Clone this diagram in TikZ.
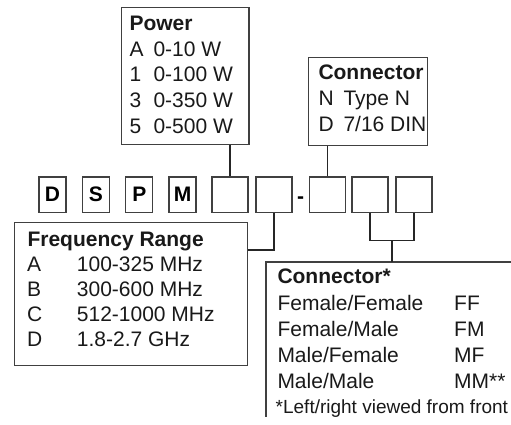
\documentclass[tikz,border=0pt]{standalone}
\usepackage{fontspec}
\setmainfont{Liberation Sans}
\begin{document}
\begin{tikzpicture}[x=1pt,y=-1pt,
  frame/.style={draw=black!75, line width=1.2pt, inner sep=0pt, rectangle},
  conn/.style={draw=black!85, line width=1.2pt},
  txt/.style={anchor=base west, inner sep=0pt, font=\fontsize{21}{25}\selectfont, text=black!90},
  ttl/.style={txt, font=\fontsize{21}{25}\selectfont\bfseries},
  smalltxt/.style={txt, font=\fontsize{19}{23}\selectfont},
  letter/.style={frame, minimum width=27pt, minimum height=35.5pt, font=\fontsize{21}{25}\selectfont\bfseries},
  slot/.style={frame, minimum width=36pt, minimum height=35.5pt}]
\useasboundingbox (0,0) rectangle (511,425);

% code boxes
\node[letter] (bD) at (52.5,194.7) {D};
\node[letter] (bS) at (96,194.7) {S};
\node[letter] (bP) at (139.3,194.7) {P};
\node[letter] (bM) at (182.5,194.7) {M};
\node[slot] (s5) at (230,194.7) {};
\node[slot] (s6) at (274,194.7) {};
\node[anchor=base, inner sep=0pt, font=\fontsize{21}{25}\selectfont\bfseries] (dash) at (300.5,203.7) {-};
\node[slot] (s7) at (327.5,194.7) {};
\node[slot] (s8) at (370,194.7) {};
\node[slot] (s9) at (414,194.7) {};

% Power box
\node[frame, anchor=north west, minimum width=127.6pt, minimum height=136.7pt] (power) at (120.7,7.3) {};
\node[ttl] (pt) at (129.3,30.7) {Power};
\node[txt] (pa) at (129.3,56.7) {A};
\node[txt] (pav) at (153.3,56.7) {0-10 W};
\node[txt] (p1) at (129.3,82) {1};
\node[txt] (p1v) at (153.3,82) {0-100 W};
\node[txt] (p3) at (129.3,107.5) {3};
\node[txt] (p3v) at (153.3,107.5) {0-350 W};
\node[txt] (p5) at (129.3,133) {5};
\node[txt] (p5v) at (153.3,133) {0-500 W};

% Connector box
\node[frame, anchor=north west, minimum width=119pt, minimum height=88pt] (cbox) at (308,57) {};
\node[ttl] (ct) at (318.3,80) {Connector};
\node[txt] (cn) at (318.3,105.5) {N};
\node[txt] (cnv) at (343.3,105.5) {Type N};
\node[txt] (cd) at (318.3,131.5) {D};
\node[txt] (cdv) at (343.3,131.5) {7/16 DIN};

% Frequency box
\node[frame, anchor=north west, minimum width=232.7pt, minimum height=143.3pt] (freq) at (14,221.7) {};
\node[ttl] (ft) at (27.3,246) {Frequency Range};
\node[txt] (fa) at (27,271) {A};
\node[txt] (fav) at (76.7,271) {100-325 MHz};
\node[txt] (fb) at (27,296.5) {B};
\node[txt] (fbv) at (76.7,296.5) {300-600 MHz};
\node[txt] (fc) at (27,321.5) {C};
\node[txt] (fcv) at (76.7,321.5) {512-1000 MHz};
\node[txt] (fd) at (27,346.5) {D};
\node[txt] (fdv) at (76.7,346.5) {1.8-2.7 GHz};

% Connector* box (clipped by picture edge)
\coordinate (ctl) at (266,262);
\draw[draw=black!75, line width=1.2pt] (511,262) -- (ctl) -- (266,417);
\node[ttl] (kt) at (277.3,283.3) {Connector*};
\node[txt] (k1) at (277.3,310.5) {Female/Female};
\node[txt] (k1v) at (454,310.5) {FF};
\node[txt] (k2) at (277.3,336) {Female/Male};
\node[txt] (k2v) at (454,336) {FM};
\node[txt] (k3) at (277.3,362) {Male/Female};
\node[txt] (k3v) at (454,362) {MF};
\node[txt] (k4) at (277.3,388) {Male/Male};
\node[txt] (k4v) at (454,388) {MM**};
\node[smalltxt] (kf) at (275.5,413.3) {*Left/right viewed from front};

% connectors
\draw[conn] (s5.north) -- (s5.north |- power.south);
\draw[conn] (s7.north) -- (s7.north |- cbox.south);
\coordinate (fj) at (274,250);
\draw[conn] (s6.south) -- (fj) -- (fj -| freq.east);
\coordinate (kj) at (392,240.7);
\draw[conn] (s8.south) |- (kj) -| (s9.south);
\draw[conn] (kj) -- (kj |- ctl);
\end{tikzpicture}
\end{document}
